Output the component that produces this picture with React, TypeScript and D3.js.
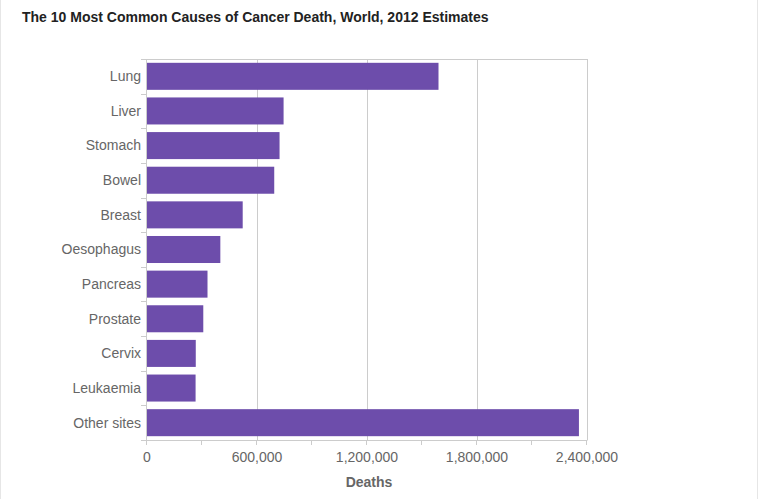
import React from "react";
import * as d3 from "d3";

const categories = ["Lung", "Liver", "Stomach", "Bowel", "Breast", "Oesophagus", "Pancreas", "Prostate", "Cervix", "Leukaemia", "Other sites"];
const deaths = [1590000, 745000, 723000, 694000, 522000, 400000, 330000, 307000, 266000, 265000, 2356000];
const majorTicks = [0, 600000, 1200000, 1800000, 2400000];
const minorTicks = [0, 300000, 600000, 900000, 1200000, 1500000, 1800000, 2100000, 2400000];

const W = 759, H = 499;
const left = 147, right = 587, top = 59, bottom = 440;

export default function App() {
  const x = d3.scaleLinear().domain([0, 2400000]).range([left, right]);
  const y = d3.scaleBand<string>().domain(categories).range([top, bottom]).paddingInner(0.22).paddingOuter(0.11);
  const fmt = d3.format(",");
  const step = y.step();
  const font = "'Liberation Sans', Arial, sans-serif";
  return (
    <svg width={W} height={H} style={{ position: "absolute", left: 0, top: 0, background: "#fff" }} fontFamily={font}>
      <line x1={0.5} x2={0.5} y1={0} y2={H} stroke="#e6e6e6" />
      <line x1={W - 1.5} x2={W - 1.5} y1={0} y2={H} stroke="#e6e6e6" />
      <text x={22} y={22} fontSize={14} fontWeight="bold" fill="#222">The 10 Most Common Causes of Cancer Death, World, 2012 Estimates</text>
      {majorTicks.slice(1).map(t => (
        <line key={t} x1={Math.round(x(t)) + 0.5} x2={Math.round(x(t)) + 0.5} y1={top} y2={bottom} stroke="#cccccc" />
      ))}
      <line x1={left - 6} x2={right} y1={top + 0.5} y2={top + 0.5} stroke="#cccccc" />
      {categories.map((c, i) => (
        <line key={"t" + c} x1={left - 6} x2={left} y1={Math.round(top + step * (i + 1)) + 0.5} y2={Math.round(top + step * (i + 1)) + 0.5} stroke="#cccccc" />
      ))}
      {categories.map((c, i) => (
        <rect key={c} x={x(0)} y={y(c)!} width={x(deaths[i]) - x(0)} height={y.bandwidth()} fill="#6d4dab" />
      ))}
      <line x1={left - 0.5} x2={left - 0.5} y1={top} y2={bottom} stroke="#cccccc" />
      <line x1={left - 1} x2={right + 0.5} y1={bottom + 0.5} y2={bottom + 0.5} stroke="#cccccc" />
      {minorTicks.map(t => (
        <line key={"m" + t} x1={Math.round(x(t)) - 0.5} x2={Math.round(x(t)) - 0.5} y1={bottom} y2={bottom + 5} stroke="#cccccc" />
      ))}
      {categories.map(c => (
        <text key={"l" + c} x={left - 6} y={y(c)! + y.bandwidth() / 2} dy="0.35em" textAnchor="end" fontSize={14} fill="#666">{c}</text>
      ))}
      {majorTicks.map(t => (
        <text key={"x" + t} x={x(t)} y={462} textAnchor="middle" fontSize={14} fill="#666">{fmt(t)}</text>
      ))}
      <text x={(left + right) / 2 + 2} y={487} textAnchor="middle" fontSize={14} fontWeight="bold" fill="#666">Deaths</text>
    </svg>
  );
}
